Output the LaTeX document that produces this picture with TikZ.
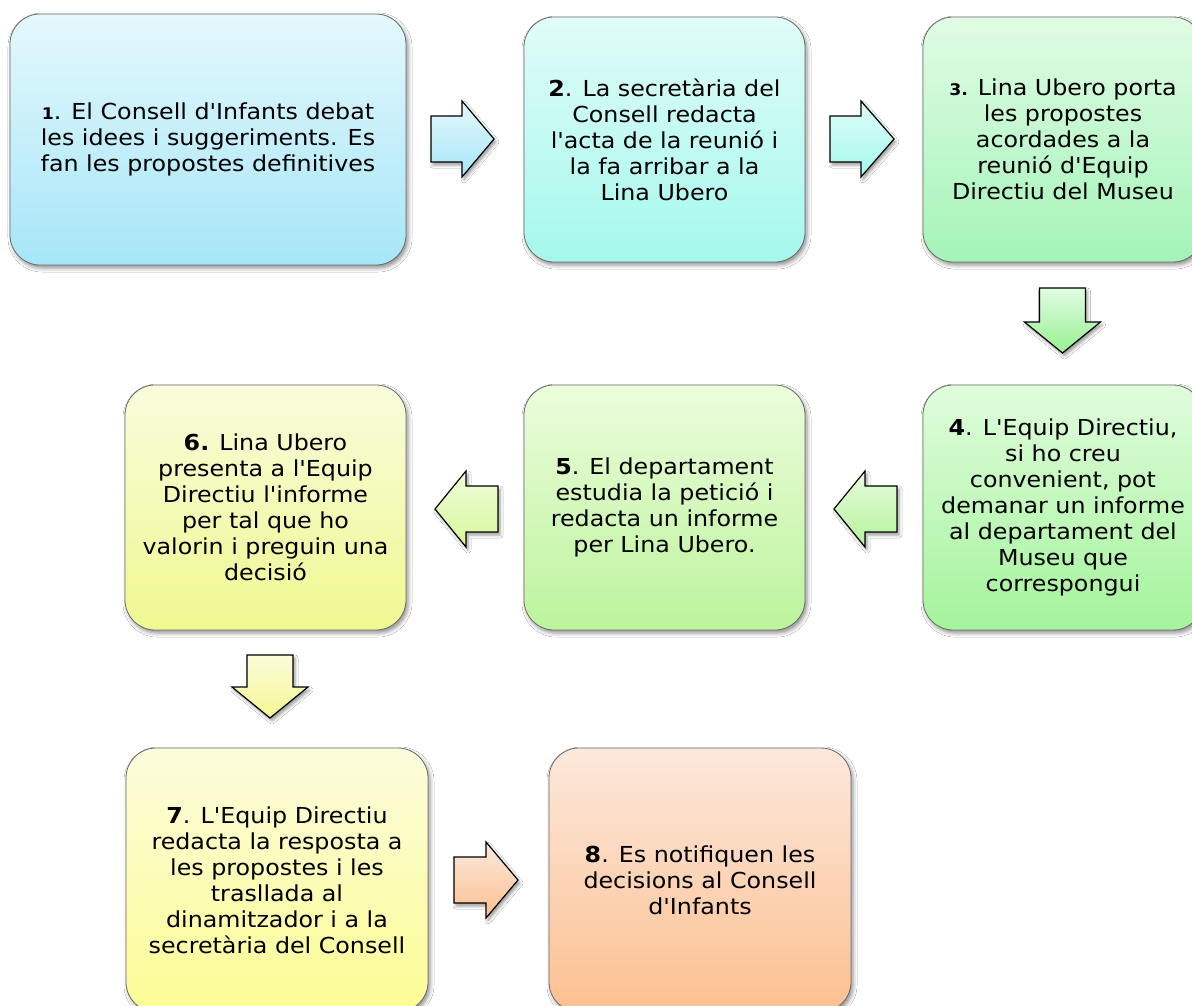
\documentclass[tikz,border=0pt]{standalone}
\usepackage{fontspec}
\setmainfont{DejaVu Sans}[Ligatures=TeXOff,FakeStretch=1.08]
\usetikzlibrary{shadows.blur}
\definecolor{boxline}{HTML}{6A6A6A}
\definecolor{c1t}{HTML}{E4F8FC}\definecolor{c1b}{HTML}{A6E6F8}
\definecolor{c2t}{HTML}{E0FCF8}\definecolor{c2b}{HTML}{A4F8EC}
\definecolor{c3t}{HTML}{E0FCE4}\definecolor{c3b}{HTML}{A4F4B8}
\definecolor{c4t}{HTML}{E0FCDC}\definecolor{c4b}{HTML}{A4F49C}
\definecolor{c5t}{HTML}{ECFCDC}\definecolor{c5b}{HTML}{BCF49C}
\definecolor{c6t}{HTML}{F8FCDC}\definecolor{c6b}{HTML}{F0F890}
\definecolor{c7t}{HTML}{FCFCDC}\definecolor{c7b}{HTML}{FCFC94}
\definecolor{c8t}{HTML}{FCE8DC}\definecolor{c8b}{HTML}{FCC090}
\definecolor{a3b}{HTML}{98F090}
\definecolor{a4t}{HTML}{E8FCDC}\definecolor{a4b}{HTML}{B4F29A}
\definecolor{a5t}{HTML}{F0FCDC}\definecolor{a5b}{HTML}{D8F89A}
\definecolor{a6b}{HTML}{F4F890}
% horizontal block arrow: top colour, bottom colour, x of tail, x of head base, x of tip, y of axis
\newcommand\hblockarrow[6]{%
  \path[barrow,top color=#1,bottom color=#2]
    (#3,#6-23) -- (#4,#6-23) -- (#4,#6-38) -- (#5,#6) -- (#4,#6+38)
    -- (#4,#6+23) -- (#3,#6+23) -- cycle;}
% vertical block arrow: top colour, bottom colour, x of axis, y of tail, y of head base, y of tip
\newcommand\vblockarrow[6]{%
  \path[barrow,top color=#1,bottom color=#2]
    (#3-23,#4) -- (#3+23,#4) -- (#3+23,#5) -- (#3+38,#5) -- (#3,#6)
    -- (#3-38,#5) -- (#3-23,#5) -- cycle;}
\begin{document}
\begin{tikzpicture}[x=1pt,y=-1pt,
  box/.style={draw=boxline, line width=0.8pt, rounded corners=30pt,
    align=center, inner sep=0pt, text=black,
    font=\fontsize{22}{26}\selectfont,
    blur shadow={shadow xshift=2pt, shadow yshift=-3pt,
      shadow blur radius=4pt, shadow opacity=45}},
  barrow/.style={draw=black, line width=1.2pt, line join=miter,
    blur shadow={shadow xshift=2pt, shadow yshift=-3pt,
      shadow blur radius=3pt, shadow opacity=40}}]
\useasboundingbox (0,0) rectangle (1192,1005);
\clip (0,0) rectangle (1192,1005);
\fill[white] (0,0) rectangle (1192,1005);

\node[box, minimum width=396pt, minimum height=251pt, top color=c1t, bottom color=c1b]
  (b1) at (208,139.5)
  {{\fontsize{16}{16}\selectfont\textbf{1}}. El Consell d'Infants debat\\
   les idees i suggeriments. Es\\ fan les propostes definitives};
\node[box, minimum width=281pt, minimum height=245pt, top color=c2t, bottom color=c2b]
  (b2) at (664.5,139.5)
  {\textbf{2}. La secretària del\\ Consell redacta\\ l'acta de la reunió i\\
   la fa arribar a la\\ Lina Ubero};
\node[box, minimum width=280pt, minimum height=245pt, top color=c3t, bottom color=c3b]
  (b3) at (1063,139.5)
  {{\fontsize{16}{16}\selectfont\textbf{3.}} Lina Ubero porta\\ les propostes\\
   acordades a la\\ reunió d'Equip\\ Directiu del Museu};
\node[box, minimum width=280pt, minimum height=245pt, top color=c4t, bottom color=c4b]
  (b4) at (1063,507.5)
  {\textbf{4}. L'Equip Directiu,\\ si ho creu\\ convenient, pot\\ demanar un informe\\
   al departament del\\ Museu que\\ correspongui};
\node[box, minimum width=281pt, minimum height=245pt, top color=c5t, bottom color=c5b]
  (b5) at (664.5,507.5)
  {\textbf{5}. El departament\\ estudia la petició i\\ redacta un informe\\ per Lina Ubero.};
\node[box, minimum width=281pt, minimum height=245pt, top color=c6t, bottom color=c6b]
  (b6) at (265.5,507.5)
  {\textbf{6.} Lina Ubero\\ presenta a l'Equip\\ Directiu l'informe\\ per tal que ho\\
   valorin i preguin una\\ decisió};
\node[box, minimum width=302pt, minimum height=264pt, top color=c7t, bottom color=c7b]
  (b7) at (277,880)
  {\textbf{7}. L'Equip Directiu\\ redacta la resposta a\\ les propostes i les\\
   trasllada al\\ dinamitzador i a la\\ secretària del Consell};
\node[box, minimum width=302pt, minimum height=264pt, top color=c8t, bottom color=c8b]
  (b8) at (700,880)
  {\textbf{8}. Es notifiquen les\\ decisions al Consell\\ d'Infants};

\hblockarrow{c1t}{c1b}{431}{462}{494}{139}
\hblockarrow{c2t}{c2b}{830}{861}{894}{139}
\vblockarrow{c3t}{a3b}{1062.5}{288}{322}{353}
\hblockarrow{a4t}{a4b}{897}{865}{834}{509}
\hblockarrow{a5t}{a5b}{498}{466}{435}{509}
\vblockarrow{c7t}{a6b}{270}{655}{687}{718}
\hblockarrow{c8t}{c8b}{454}{486}{518}{880}
\end{tikzpicture}
\end{document}
